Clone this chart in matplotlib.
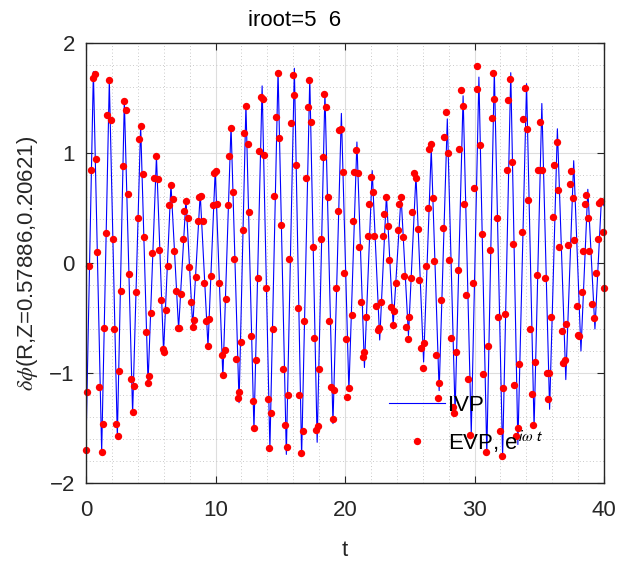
import numpy as np
import matplotlib.pyplot as plt
from matplotlib.ticker import MultipleLocator

plt.rcParams['font.family'] = ['Liberation Sans', 'DejaVu Sans']
plt.rcParams['mathtext.fontset'] = 'stix'

# IVP curve, turning points
ivp_t = [0.0, 0.57, 1.21, 1.80, 2.42, 2.96, 3.60, 4.22, 4.79, 5.44, 5.99, 6.56, 7.15, 7.72,
         8.24, 8.82, 9.42, 9.98, 10.57, 11.20, 11.82, 12.35, 12.97, 13.60, 14.20, 14.83,
         15.47, 16.09, 16.65, 17.28, 17.85, 18.45, 19.07, 19.72, 20.30, 20.92, 21.50, 22.10,
         22.68, 23.20, 23.72, 24.33, 24.90, 25.48, 26.07, 26.66, 27.27, 27.90, 28.50, 29.12,
         29.75, 30.34, 30.95, 31.53, 32.17, 32.80, 33.35, 34.02, 34.60, 35.20, 35.80, 36.40,
         37.05, 37.66, 38.22, 38.75, 39.30, 39.80, 40.0]
ivp_y = [-1.65, 1.74, -1.72, 1.66, -1.58, 1.48, -1.37, 1.25, -1.09, 0.97, -0.81, 0.72, -0.60, 0.58,
         -0.58, 0.63, -0.76, 0.85, -1.04, 1.25, -1.27, 1.44, -1.52, 1.61, -1.69, 1.75,
         -1.74, 1.77, -1.76, 1.68, -1.63, 1.55, -1.46, 1.36, -1.16, 1.10, -0.95, 0.84,
         -0.70, 0.62, -0.57, 0.61, -0.66, 0.80, -0.90, 1.04, -1.16, 1.31, -1.36, 1.52,
         -1.55, 1.69, -1.74, 1.75, -1.76, 1.73, -1.65, 1.63, -1.50, 1.45, -1.33, 1.22,
         -1.06, 0.93, -0.80, 0.67, -0.60, 0.58, 0.52]

# EVP samples
evp_t = [0.00, 0.10, 0.26, 0.36, 0.51, 0.67, 0.77, 0.88, 1.03, 1.21, 1.29, 1.42, 1.52, 1.65, 1.78,
         1.93, 2.06, 2.16, 2.32, 2.45, 2.57, 2.68, 2.83, 2.96, 3.09, 3.22, 3.35, 3.47, 3.60, 3.71,
         3.86, 3.99, 4.12, 4.25, 4.38, 4.50, 4.63, 4.79, 4.89,
         5.02, 5.12, 5.28, 5.41, 5.53, 5.66, 5.79, 5.92, 6.05, 6.18, 6.31, 6.43, 6.56, 6.69, 6.82,
         6.95, 7.08, 7.21, 7.34, 7.46, 7.59, 7.72, 7.85, 7.98, 8.11, 8.24, 8.37, 8.49, 8.62, 8.75,
         8.88, 9.01, 9.14, 9.27, 9.40, 9.53, 9.65, 9.78, 9.91, 10.04,
         10.14, 10.30, 10.48, 10.61, 10.72, 10.81, 10.94, 11.07, 11.20, 11.33, 11.45, 11.58, 11.71,
         11.84, 11.97, 12.10, 12.23, 12.35, 12.48, 12.61, 12.74, 12.87, 13.00, 13.13, 13.26, 13.38,
         13.51, 13.64, 13.77, 13.90, 14.03, 14.16, 14.29, 14.42, 14.54, 14.67, 14.85, 14.93, 15.03,
         15.24, 15.37, 15.50, 15.57, 15.70, 15.83, 15.96, 16.09, 16.22, 16.34, 16.47, 16.60, 16.73,
         16.86, 16.99, 17.12, 17.25, 17.37, 17.50, 17.63, 17.76, 17.89, 18.02, 18.15, 18.28, 18.40,
         18.53, 18.66, 18.79, 18.92, 19.05, 19.18, 19.31, 19.43, 19.56, 19.69, 19.82, 19.95, 20.08,
         20.18, 20.33, 20.52, 20.59, 20.72, 20.85, 20.98, 21.11, 21.24, 21.36, 21.49, 21.62, 21.75,
         21.88, 22.01, 22.13, 22.26, 22.39, 22.52, 22.65, 22.78, 22.91, 23.04, 23.17, 23.29, 23.42,
         23.55, 23.68, 23.81, 23.94, 24.07, 24.19, 24.32, 24.45, 24.58, 24.71, 24.84, 24.97, 25.10,
         25.20, 25.35, 25.48, 25.61, 25.74, 25.87, 26.00, 26.13, 26.26, 26.38, 26.51, 26.64, 26.77,
         26.90, 27.03, 27.16, 27.28, 27.41, 27.54, 27.67, 27.80, 27.93, 28.06, 28.18, 28.31, 28.44,
         28.57, 28.70, 28.83, 28.96, 29.09, 29.22, 29.34, 29.47,
         29.65, 29.86, 29.99, 30.17, 30.22, 30.42, 30.55, 30.68, 30.86, 31.07, 31.20, 31.33, 31.40,
         31.53, 31.71, 31.84, 31.97, 32.10, 32.23, 32.36, 32.48, 32.61, 32.74, 32.87, 32.95, 33.08,
         33.20, 33.33, 33.46, 33.64, 33.77, 33.90, 34.03, 34.16, 34.29, 34.42, 34.54, 34.67, 34.80,
         34.93, 35.06,
         35.24, 35.44, 35.57, 35.65, 35.78, 35.91, 36.09, 36.17, 36.34, 36.47, 36.55, 36.73, 36.86,
         36.99, 37.07, 37.25, 37.37, 37.45, 37.63, 37.71, 37.89, 38.02, 38.09, 38.27, 38.40, 38.53,
         38.61, 38.74, 38.87, 39.05, 39.25, 39.38, 39.51, 39.64, 39.77, 39.90, 40.0]
evp_y = [-1.70, -1.17, -0.03, 0.85, 1.68, 1.72, 0.95, 0.10, -1.13, -1.72, -1.46, -0.59, 0.27, 1.35, 1.66,
         1.30, 0.22, -0.60, -1.46, -1.57, -0.98, -0.25, 0.88, 1.47, 1.39, 0.63, -0.10, -1.05, -1.35, -1.12,
         -0.26, 0.41, 1.13, 1.25, 0.81, 0.24, -0.63, -1.09, -1.03,
         -0.45, 0.09, 0.77, 0.97, 0.76, 0.12, -0.34, -0.78, -0.81, -0.43, -0.03, 0.53, 0.71, 0.58, 0.11,
         -0.25, -0.59, -0.59, -0.28, 0.22, 0.47, 0.56, 0.41, -0.04, -0.35, -0.58, -0.52, -0.13, 0.38, 0.60,
         0.61, 0.38, -0.18, -0.53, -0.75, -0.51, -0.12, 0.53, 0.82, 0.84,
         0.54, -0.18, -0.84, -1.02, -0.79, -0.33, 0.53, 0.97, 1.23, 0.65, 0.04, -0.87, -1.23,
         -1.17, -0.72, 0.30, 1.18, 1.43, 1.08, 0.46, -0.66, -1.25, -1.50, -0.88, -0.14, 1.02,
         1.51, 1.49, 0.98, -0.23, -1.24, -1.68, -1.36, -0.60, 0.61, 1.33, 1.73, 1.14, 0.35,
         -0.96, -1.47, -1.67, -1.20, 0.04, 1.27, 1.71, 1.53, 0.89, -0.41, -1.20, -1.73, -1.53,
         -0.53, 0.77, 1.42, 1.66, 1.28, 0.15, -0.68, -1.52, -1.48, -0.96, 0.22, 0.96, 1.54,
         1.42, 0.60, -0.53, -1.13, -1.42, -1.15, -0.23, 0.47, 1.21, 1.22, 0.83, -0.09, -0.69,
         -1.22, -1.14, -0.47, 0.38, 0.83, 1.03, 0.82, 0.15, -0.35, -0.85, -0.81, -0.49, 0.25,
         0.54, 0.78, 0.65, 0.25, -0.39, -0.61, -0.59, -0.35, 0.25, 0.45, 0.60, 0.34, 0.03,
         -0.40, -0.56, -0.44, -0.18, 0.30, 0.54, 0.60, 0.24, -0.12, -0.58, -0.69, -0.49, -0.14,
         0.46, 0.82, 0.77, 0.31, -0.15, -0.77, -0.95, -0.73, -0.03, 0.50, 1.04, 1.08, 0.59,
         0.02, -0.84, -1.23, -1.09, -0.34, 0.32, 1.15, 1.37, 1.00, 0.03, -0.68, -1.31, -1.36,
         -0.81, -0.06, 1.04, 1.57, 1.43, 0.54, -0.29, -1.05,
         -1.56, -0.18, 0.68, 1.58, 1.79, 1.07, 0.26, -1.01, -1.72, -0.75, 0.12, 1.32, 1.73,
         1.49, 0.41, -0.49, -1.53, -1.75, -1.14, -0.46, 0.85, 1.48, 1.67, 0.92, 0.17, -1.11,
         -1.57, -1.50, -0.92, 0.28, 1.31, 1.59, 1.22, 0.57, -0.60, -1.19, -1.47, -0.90, -0.11,
         0.85, 1.28,
         0.85, -0.14, -1.00, -1.24, -1.00, -0.49, 0.42, 0.89, 1.10, 0.66, 0.15, -0.62, -0.91,
         -0.88, -0.55, 0.16, 0.72, 0.84, 0.59, 0.21, -0.39, -0.65, -0.66, -0.26, 0.11, 0.54,
         0.62, 0.41, 0.11, -0.37, -0.50, -0.09, 0.22, 0.55, 0.56, 0.28, -0.23]

title_text = 'iroot=5  6'
xlabel_text = 't'
ylabel_text = r'$\delta\phi$(R,Z=0.57886,0.20621)'
labels = ['IVP', r'EVP, e$^{\mathsf{i}\omega\ \mathsf{t}}$']
xticks = [0, 10, 20, 30, 40]
yticks = [-2, -1, 0, 1, 2]

fig = plt.figure(figsize=(6.2, 5.65), dpi=100)
ax = fig.add_axes([86 / 620, 82 / 565, 518 / 620, 440 / 565])

ax.plot(ivp_t, ivp_y, color='b', lw=0.8, label=labels[0])
ax.plot(evp_t, evp_y, 'o', color='r', ms=5.3, mec='none', label=labels[1], clip_on=False)

ax.set_xlim(0, 40)
ax.set_ylim(-2, 2)
ax.set_xticks(xticks)
ax.set_yticks(yticks)
ax.xaxis.set_minor_locator(MultipleLocator(2))
ax.yaxis.set_minor_locator(MultipleLocator(0.2))
ax.grid(which='major', color='0.87', lw=0.8)
ax.grid(which='minor', color='0.72', lw=0.6, ls=(0, (1, 3)))
ax.set_axisbelow(True)
ax.tick_params(which='major', direction='in', length=5, top=True, right=True,
               labelsize=16, pad=8, color='0.15', labelcolor='0.15')
ax.tick_params(axis='x', which='major', pad=12)
ax.tick_params(which='minor', length=0)
for s in ax.spines.values():
    s.set_color('0.15')
    s.set_linewidth(1)

# title sits left of centre in the original (trailing blanks in the string)
ax.text(0.403, 1.027, title_text, transform=ax.transAxes, ha='center', va='bottom',
        fontsize=16, color='k')
ax.set_xlabel(xlabel_text, fontsize=16, color='0.15', labelpad=14)
ax.set_ylabel(ylabel_text, fontsize=16, color='0.15', labelpad=7)

ax.legend(loc='upper left', bbox_to_anchor=(0.585, 0.2), frameon=False, fontsize=16,
          handlelength=2.5, handletextpad=0.15, labelspacing=0.55, borderpad=0, borderaxespad=0)

fig.savefig('out.png', dpi=100)
